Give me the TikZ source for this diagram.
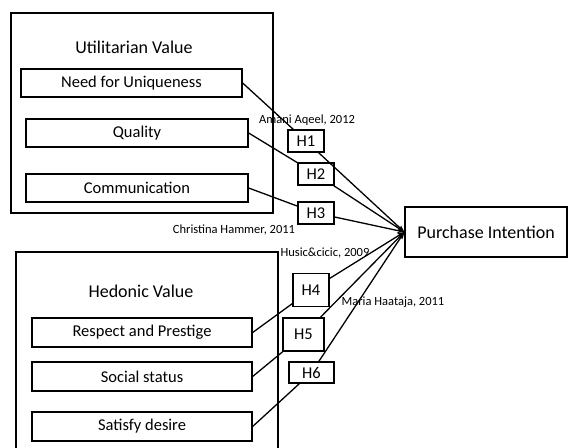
\documentclass[tikz,border=0pt]{standalone}
\usepackage{fontspec}
\setmainfont{Carlito}
\usetikzlibrary{arrows.meta}
\begin{document}
\begin{tikzpicture}[x=1pt,y=-1pt,
  box/.style={draw,line width=1.3pt,fill=white,inner sep=0pt,font=\fontsize{16.5}{18}\selectfont},
  hbox/.style={draw,line width=1.3pt,fill=white,inner sep=0pt,font=\fontsize{16.5}{18}\selectfont},
  cite/.style={font=\fontsize{12.5}{14}\selectfont,inner sep=0pt},
  title/.style={font=\fontsize{18}{20}\selectfont,inner sep=0pt},
  conn/.style={line width=1.3pt},
  arr/.style={line width=1.3pt,-{Stealth[length=7pt,width=5pt]}}]
\useasboundingbox (0,0) rectangle (570,447);
% containers
\node[draw,line width=1.3pt,minimum width=262pt,minimum height=200pt,inner sep=0pt] (util) at (142,113) {};
\draw[line width=1.3pt] (16,452) coordinate (hbl) -- (16,252) coordinate (htl) -- (278,252) coordinate (htr) -- (278,452) coordinate (hbr);
\node[title] (utitle) at (134,47) {Utilitarian Value};
\node[title] (htitle) at (141,291) {Hedonic Value};
% source boxes
\node[box,minimum width=221pt,minimum height=28pt] (nfu) at (131.5,83) {Need for Uniqueness};
\node[box,minimum width=222pt,minimum height=28pt] (qual) at (137,133) {Quality};
\node[box,minimum width=222pt,minimum height=28pt] (comm) at (137,188) {Communication};
\node[box,minimum width=220pt,minimum height=29pt] (resp) at (142,332.5) {Respect and Prestige};
\node[box,minimum width=220pt,minimum height=29pt] (soc) at (142,376.5) {Social status};
\node[box,minimum width=220pt,minimum height=29pt] (sat) at (142,426.5) {Satisfy desire};
% target
\node[box,minimum width=162pt,minimum height=50pt,font=\fontsize{18}{20}\selectfont] (pi) at (486,232) {Purchase Intention};
% hypothesis boxes
\node[hbox,minimum width=36pt,minimum height=22pt] (h1) at (306,141) {H1};
\node[hbox,minimum width=36pt,minimum height=22pt] (h2) at (316,174) {H2};
\node[hbox,minimum width=36pt,minimum height=22pt] (h3) at (316,213) {H3};
\node[hbox,minimum width=36pt,minimum height=33pt] (h4) at (311,290) {H4};
\node[hbox,minimum width=41pt,minimum height=33pt] (h5) at (303.5,334.5) {H5};
\node[hbox,minimum width=45pt,minimum height=21pt] (h6) at (311.5,372.5) {H6};
% connectors
\draw[conn] (nfu.east) -- (h1);
\draw[conn] (qual.east) -- (h2);
\draw[conn] (comm.east) -- (h3);
\draw[conn] (resp.east) -- (h4);
\draw[conn] (soc.east) -- (h5);
\draw[conn] (sat.east) -- (h6);
\draw[arr] (h1) -- (pi.west);
\draw[arr] (h2) -- (pi.west);
\draw[arr] (h3) -- (pi.west);
\draw[arr] (h4) -- (pi.west);
\draw[arr] (h5) -- (pi.west);
\draw[arr] (h6) -- (pi.west);
% citations
\node[cite] (c1) at (307,120) {Amani Aqeel, 2012};
\node[cite] (c2) at (234,230) {Christina Hammer, 2011};
\node[cite] (c3) at (325,253) {Husic\&cicic, 2009};
\node[cite] (c4) at (393,302) {Maria Haataja, 2011};
\end{tikzpicture}
\end{document}
